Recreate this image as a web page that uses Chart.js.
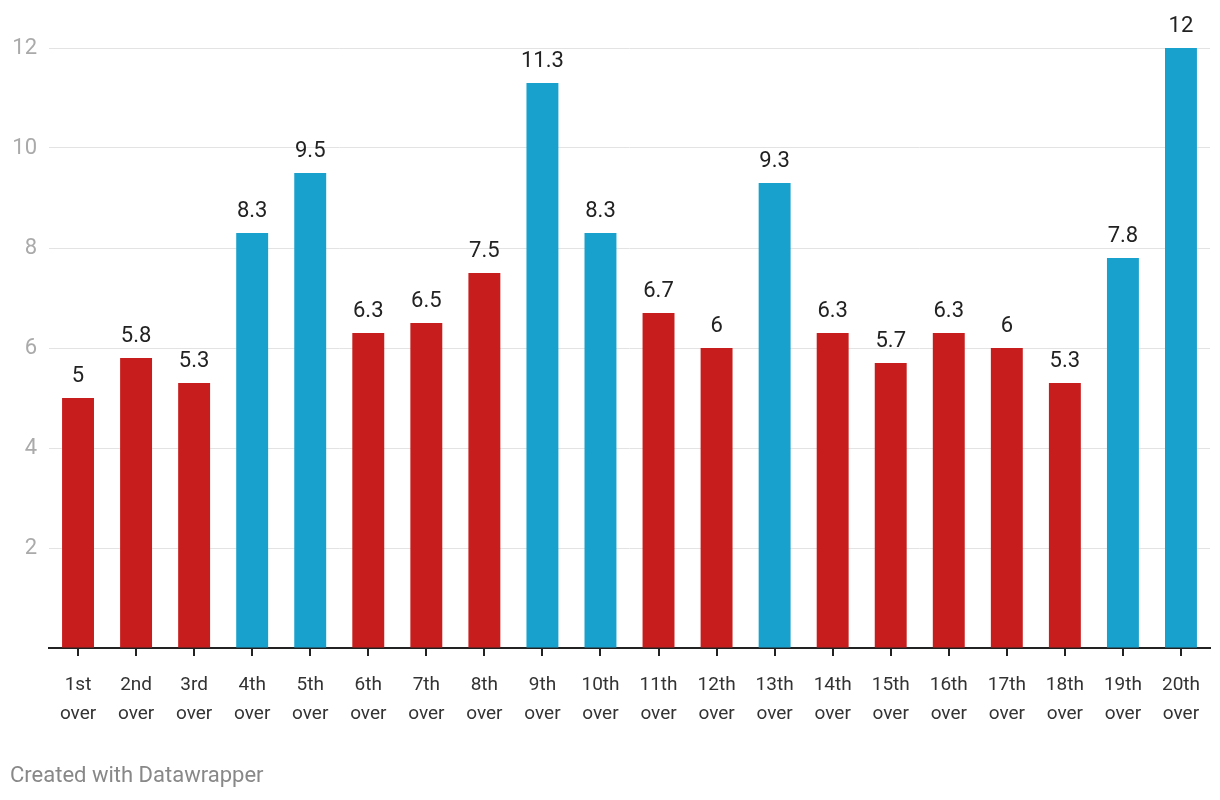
<!DOCTYPE html>
<html>
<head>
<meta charset="utf-8">
<script src="https://cdn.jsdelivr.net/npm/chart.js@4"></script>
<style>
  body { margin: 0; background: #fff; }
  #wrap { position: relative; width: 1220px; height: 800px; }
  #footer { position: absolute; left: 10px; top: 762px; font: 22px Roboto, sans-serif; color: #888; }
</style>
</head>
<body>
<div id="wrap">
  <canvas id="chart" width="1220" height="800"></canvas>
  <div id="footer">Created with Datawrapper</div>
</div>
<script>
const overs = ["1st", "2nd", "3rd", "4th", "5th", "6th", "7th", "8th", "9th", "10th",
    "11th", "12th", "13th", "14th", "15th", "16th", "17th", "18th", "19th", "20th"];
const runs = [5, 5.8, 5.3, 8.3, 9.5, 6.3, 6.5, 7.5, 11.3, 8.3,
    6.7, 6, 9.3, 6.3, 5.7, 6.3, 6, 5.3, 7.8, 12];
// blue = overs highlighted in the original
const highlighted = [4, 5, 9, 10, 13, 19, 20];
const yTicks = [2, 4, 6, 8, 10, 12];

const red = '#c71e1d';
const blue = '#18a1cd';
let barColors = [];
overs.forEach((o, i) => {
    barColors.push(highlighted.includes(i + 1) ? blue : red);
});

const valueLabels = {
    id: 'valueLabels',
    afterDatasetsDraw(chart) {
        const ctx = chart.ctx;
        const meta = chart.getDatasetMeta(0);
        ctx.save();
        ctx.font = '22px Roboto, sans-serif';
        ctx.fillStyle = '#222';
        ctx.textAlign = 'center';
        ctx.textBaseline = 'middle';
        meta.data.forEach((bar, i) => {
            ctx.fillText(String(runs[i]), bar.x, bar.y - 22);
        });
        ctx.restore();
    }
};

new Chart(document.getElementById('chart'), {
    type: 'bar',
    data: {
        labels: overs.map(o => [o, 'over']),
        datasets: [{
            data: runs,
            backgroundColor: barColors,
            barPercentage: 0.55,
            categoryPercentage: 1
        }]
    },
    options: {
        responsive: false,
        animation: false,
        layout: { padding: { top: 48, right: 10, left: 0, bottom: 0 } },
        plugins: { legend: { display: false }, tooltip: { enabled: false } },
        scales: {
            x: {
                grid: { display: true, offset: false, drawOnChartArea: false, drawTicks: true, tickLength: 8, color: '#222', lineWidth: 2 },
                border: { display: true, color: '#222', width: 2 },
                ticks: { color: '#333', font: { family: 'Roboto', size: 19, lineHeight: 1.5 }, padding: 15, maxRotation: 0, autoSkip: false },
                afterFit: s => { s.height = 152; }
            },
            y: {
                min: 0,
                max: 12,
                afterBuildTicks: s => { s.ticks = [0].concat(yTicks).map(v => ({ value: v })); },
                grid: { drawTicks: false, color: c => c.tick.value === 0 ? 'rgba(0,0,0,0)' : '#e3e3e3', lineWidth: 1 },
                border: { display: false },
                ticks: {
                    color: '#aaa',
                    font: { family: 'Roboto', size: 22 },
                    padding: 12,
                    callback: v => v === 0 ? '' : v
                },
                afterFit: s => { s.width = 49; }
            }
        }
    },
    plugins: [valueLabels]
});
</script>
</body>
</html>
